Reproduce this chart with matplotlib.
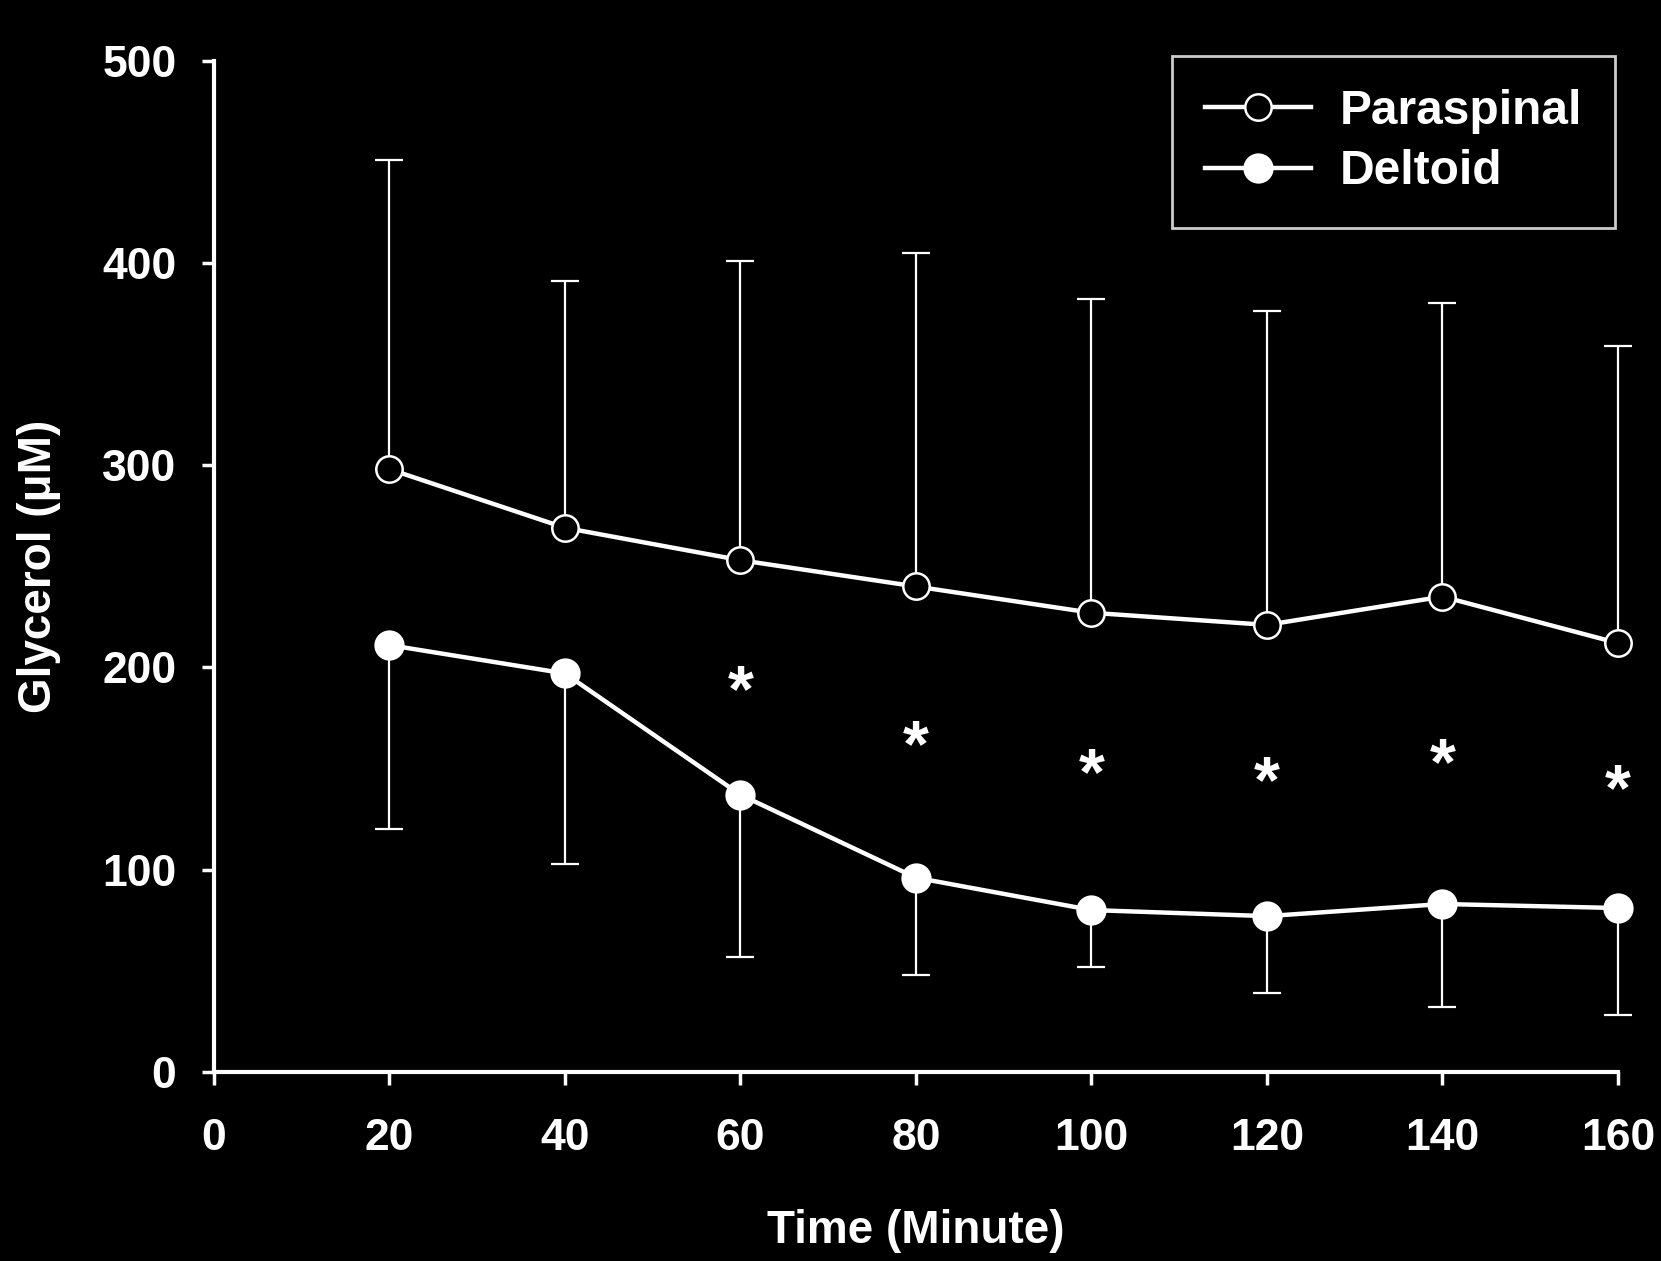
import matplotlib
matplotlib.use("Agg")
import matplotlib.pyplot as plt

plt.rcParams['font.family'] = ['Liberation Sans', 'DejaVu Sans']
plt.rcParams['font.weight'] = 'bold'

# Data
time = [20, 40, 60, 80, 100, 120, 140, 160]
para_mean = [298, 269, 253, 240, 227, 221, 235, 212]
para_top = [451, 391, 401, 405, 382, 376, 380, 359]
delt_mean = [211, 197, 137, 96, 80, 77, 83, 81]
delt_bottom = [120, 103, 57, 48, 52, 39, 32, 28]
star_time = [60, 80, 100, 120, 140, 160]
star_y = [193, 166, 152, 148, 157, 144]

para_err = [t - m for t, m in zip(para_top, para_mean)]
delt_err = [m - b for m, b in zip(delt_mean, delt_bottom)]

fig = plt.figure(figsize=(16.61, 12.61), dpi=100, facecolor='black')
ax = fig.add_axes([0.1288, 0.150, 0.8453, 0.8019])
ax.set_facecolor('black')

# error bars first (one sided)
ax.errorbar(time, para_mean, yerr=[[0] * 8, para_err], fmt='none',
            ecolor='white', elinewidth=1.6, capsize=10, capthick=1.6, zorder=1)
ax.errorbar(time, delt_mean, yerr=[delt_err, [0] * 8], fmt='none',
            ecolor='white', elinewidth=1.6, capsize=10, capthick=1.6, zorder=1)

ax.plot(time, para_mean, color='white', lw=3.2, marker='o', ms=19,
        mfc='black', mec='white', mew=1.8, label='Paraspinal', zorder=3)
ax.plot(time, delt_mean, color='white', lw=3.2, marker='o', ms=20,
        mfc='white', mec='white', mew=1.8, label='Deltoid', zorder=3)

# significance stars
for t, s in zip(star_time, star_y):
    ax.annotate('*', (t, s), xytext=(0, -9), textcoords='offset points',
                color='white', fontsize=48, ha='center', va='center',
                fontweight='bold', annotation_clip=False)

ax.set_xlim(0, 160)
ax.set_ylim(0, 500)
ax.set_xticks(range(0, 161, 20))
ax.set_yticks(range(0, 501, 100))

for side in ['top', 'right']:
    ax.spines[side].set_visible(False)
for side in ['left', 'bottom']:
    ax.spines[side].set_color('white')
    ax.spines[side].set_linewidth(3)

ax.tick_params(axis='both', colors='white', width=2.5, length=9,
               labelsize=32)
ax.tick_params(axis='x', pad=24)
ax.tick_params(axis='y', pad=18)
for lab in ax.get_xticklabels() + ax.get_yticklabels():
    lab.set_fontweight('bold')
    lab.set_color('white')

ax.set_xlabel('Time (Minute)', color='white', fontsize=33, fontweight='bold',
              labelpad=36)
ax.set_ylabel('Glycerol (μM)', color='white', fontsize=33, fontweight='bold',
              labelpad=30)

leg = ax.legend(loc='upper right', bbox_to_anchor=(0.998, 1.005),
                borderaxespad=0, fontsize=34.5, frameon=True, fancybox=False,
                handlelength=2.2, borderpad=0.7, labelspacing=0.32,
                handletextpad=0.6)
leg.get_frame().set_facecolor('black')
leg.get_frame().set_edgecolor('white')
leg.get_frame().set_linewidth(2)
for txt in leg.get_texts():
    txt.set_color('white')
    txt.set_fontweight('bold')

for art in ax.get_children():
    try:
        art.set_clip_on(False)
    except Exception:
        pass

fig.savefig('out.png', dpi=100, facecolor='black')
